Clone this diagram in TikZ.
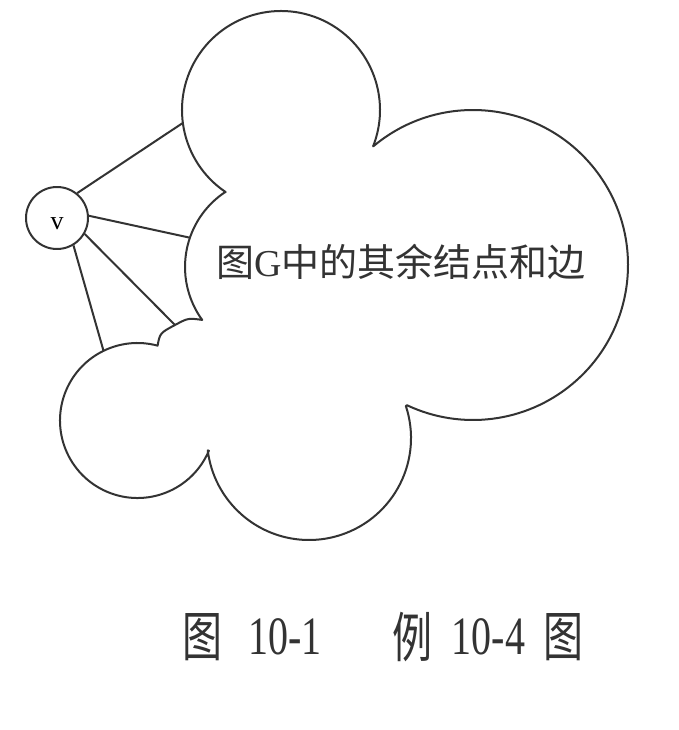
\documentclass[tikz,border=0pt]{standalone}
\usepackage{fontspec}
\setmainfont{Liberation Serif}
\newfontfamily\cjk{Noto Sans CJK SC}
\usetikzlibrary{calc}
\begin{document}
\begin{tikzpicture}[x=1pt,y=-1pt,line join=round,
  outline/.style={draw=black!80,line width=2pt},
  edge/.style={draw=black!80,line width=2pt},
  vnode/.style={circle,draw=black!80,line width=2pt,minimum size=62pt,inner sep=0pt,
    font=\fontsize{26}{26}\selectfont,text height=22pt,text depth=0pt},
  lbl/.style={font=\fontsize{38}{40}\selectfont,inner sep=0pt,text=black!80},
  captext/.style={font=\fontsize{40}{42}\selectfont,inner sep=0pt,yscale=1.35,transform shape,text=black!80}]
\useasboundingbox[fill=white] (0,0) rectangle (679,730);
\coordinate (c1) at (281,110);
\coordinate (c2) at (275,267);
\coordinate (c3) at (473,265);
\coordinate (c4) at (309,438);
\coordinate (c5) at (137.5,420.5);
\coordinate (H) at (175,325);
\coordinate (I) at ($(c2)+(144:90)$);
\coordinate (P1) at ($(c1)+(172.5:99)$);
\coordinate (P2) at ($(c2)+(199:90)$);
\coordinate (P4) at ($(c5)+(244:77.5)$);
\draw[outline] ($(c1)+(124:99)$) arc[start angle=124,end angle=381.5,radius=99]
  -- ($(c3)+(230.3:155)$) arc[start angle=230.3,end angle=475.2,radius=155]
  -- ($(c4)+(-18.3:102)$) arc[start angle=-18.3,end angle=173,radius=102]
  -- ($(c5)+(23:77.5)$) arc[start angle=23,end angle=285,radius=77.5]
  .. controls (160,333) .. (H) .. controls (188,318) .. (I)
  arc[start angle=144,end angle=236,radius=90] -- cycle;
\node[vnode] (v) at (57,218) {v};
\draw[edge] (v.51) -- (P1);
\draw[edge] (v.4) -- (P2);
\draw[edge] (v.-30) -- (H);
\draw[edge] (v.-59) -- (P4);
\node[lbl] (t) at (401,262) {{\cjk 图}G{\cjk 中的其余结点和边}};
\node[captext] (k1) at (202.5,637) {\cjk 图};
\node[captext] (k2) at (285,637) {10-1};
\node[captext] (k3) at (412,637) {\cjk 例};
\node[captext] (k4) at (488.5,637) {10-4};
\node[captext] (k5) at (563.5,637) {\cjk 图};
\end{tikzpicture}
\end{document}
